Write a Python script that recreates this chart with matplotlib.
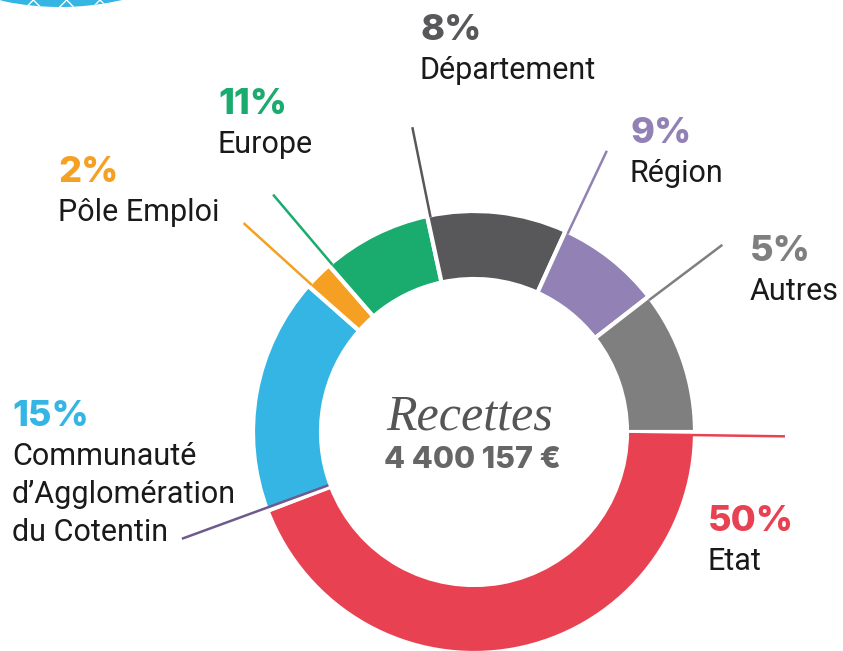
import matplotlib.pyplot as plt
import numpy as np
from matplotlib.patches import Circle

# data
categories = ['Etat', 'Communauté\nd’Agglomération\ndu Cotentin', 'Pôle Emploi',
              'Europe', 'Département', 'Région', 'Autres']
pct_labels = ['50%', '15%', '2%', '11%', '8%', '9%', '5%']
# arc sizes as drawn in the ring (share of the full circle, %)
arc_shares = [44.2, 17.3, 2.1, 8.0, 10.2, 7.7, 10.5]
total_label = '4 400 157 €'

colors = ['#e84152', '#35b5e4', '#f5a022', '#1aab6f', '#58585a', '#9181b4', '#7f7f7f']
line_colors = ['#e84152', '#6f5a8e', '#f5a022', '#1aab6f', '#58585a', '#9181b4', '#7f7f7f']

# label anchors: left x, baseline of the percentage (pixels)
label_pos = [(708, 531), (12, 426), (58, 182), (218, 114), (420, 40), (630, 143), (750, 261)]
line_start_r = [155, 155, 219, 219, 219, 219, 219]

cx, cy = 474, 432
r_out, r_in = 219, 155

fig = plt.figure(figsize=(8.43, 6.51), dpi=100)
ax = fig.add_axes([0, 0, 1, 1])

# y axis inverted -> counterclock in data is clockwise on screen
ax.pie(arc_shares, colors=colors, startangle=0, counterclock=True,
       center=(cx, cy), radius=r_out + 2,
       wedgeprops=dict(width=r_out - r_in + 4, edgecolor='white', linewidth=3))

ax.set_xlim(0, 843)
ax.set_ylim(651, 0)
ax.set_aspect('auto')
ax.axis('off')

# leader lines, radial, just inside the start of each wedge
starts = np.concatenate([[0], np.cumsum(arc_shares)[:-1]]) * 3.6
for a, r0, c in zip(starts + 0.8, line_start_r, line_colors):
    t = np.deg2rad(a)
    ax.plot([cx + r0 * np.cos(t), cx + 311 * np.cos(t)],
            [cy + r0 * np.sin(t), cy + 311 * np.sin(t)],
            color=c, lw=1.8, solid_capstyle='butt', zorder=5)

# labels
for name, pct, (x, y), c in zip(categories, pct_labels, label_pos, colors):
    ax.text(x, y, pct, color=c, fontsize=26, fontweight='heavy',
            family='Inter', va='baseline', ha='left')
    for i, line in enumerate(name.split('\n')):
        ax.text(x, y + 39 + 38 * i, line, color='#1a1a1a', fontsize=22,
                family='Roboto', va='baseline', ha='left')

# centre text
ax.text(470, 430, 'Recettes', color='#555555', fontsize=36, style='italic',
        family='Liberation Serif', ha='center', va='baseline')
ax.text(472, 468, total_label, color='#666666', fontsize=22, fontweight='heavy',
        family='Inter', ha='center', va='baseline')

# decorative patterned shape cut at the top-left
deco = Circle((60, -271), 278, facecolor='#35b5e4', edgecolor='white',
              hatch='x', linewidth=0)
ax.add_patch(deco)

fig.savefig('out.png', dpi=100)
